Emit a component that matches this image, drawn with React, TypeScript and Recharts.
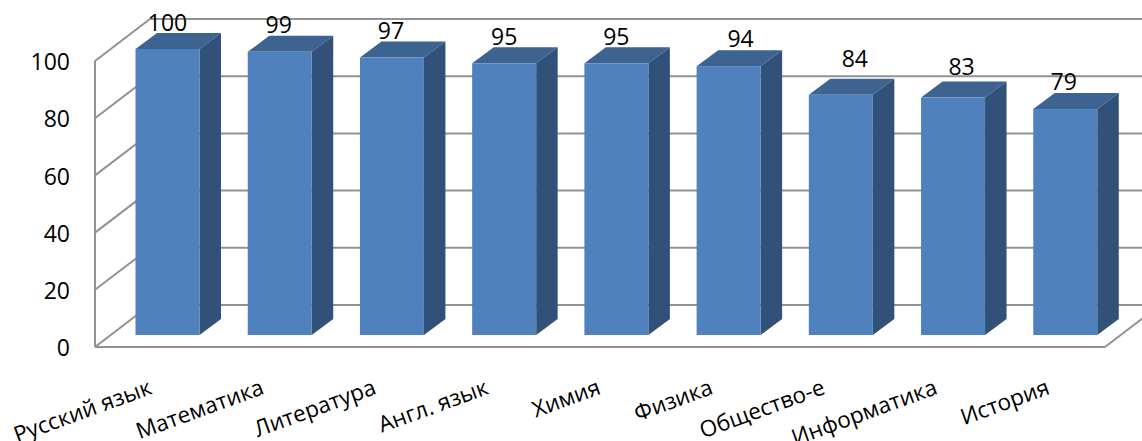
import React from "react";
import { BarChart, Bar, XAxis, YAxis, CartesianGrid, LabelList } from "recharts";

const subjects = ["Русский язык", "Математика", "Литература", "Англ. язык", "Химия", "Физика", "Общество-е", "Информатика", "История"];
const scores = [100, 99, 97, 95, 95, 94, 84, 83, 79];
const yTicks = [0, 20, 40, 60, 80, 100];

const rows = subjects.map((name, i) => ({ name, score: scores[i] }));

const FONT = "'Open Sans', sans-serif";
const GRID = "#929292";
// Oblique offset of the back wall relative to the front plane.
const WALL_DX = 55;
const WALL_DY = -42;
// Columns stand on the floor, part way between the front edge and the wall.
const BAR_DX = 16.5;
const BAR_DY = -12;
const DEPTH_DX = 21.5;
const DEPTH_DY = -16;
// Hand-placed value labels: sideways shift from the column centre and lift above its front top edge.
const LABEL_SHIFT = [0, -1, -1, 0, 0, 12, 14, 8.5, -1.5];
const LABEL_LIFT = [18, 18.5, 18.5, 18.5, 18.5, 19.5, 28, 23, 19];

function WallLine(props: any) {
  const { x1, y1, x2, y2 } = props;
  const bx = x1 + WALL_DX;
  const by = y1 + WALL_DY;
  const ex = x2 + WALL_DX;
  const points = `${x1},${y1} ${bx},${by} ${ex},${by}`;
  const isFloor = y1 > 340;
  return (
    <g>
      <polyline points={points} fill="none" stroke={GRID} strokeWidth={2} />
      {isFloor && <line x1={x2} y1={y2} x2={ex} y2={by} stroke={GRID} strokeWidth={2} />}
    </g>
  );
}

function Column(props: any) {
  const { x, y, width, height } = props;
  const l = x + BAR_DX;
  const t = y + BAR_DY;
  const r = l + width;
  const b = t + height;
  return (
    <g>
      <polygon
        points={`${l},${t} ${l + DEPTH_DX},${t + DEPTH_DY} ${r + DEPTH_DX},${t + DEPTH_DY} ${r},${t}`}
        fill="#3D6391"
      />
      <polygon
        points={`${r},${t} ${r + DEPTH_DX},${t + DEPTH_DY} ${r + DEPTH_DX},${b + DEPTH_DY} ${r},${b}`}
        fill="#325179"
      />
      <rect x={l} y={t} width={width} height={height} fill="#4F81BD" />
    </g>
  );
}

function ScoreLabel(props: any) {
  const { x, y, width, value, index } = props;
  return (
    <text
      x={x + BAR_DX + width / 2 + LABEL_SHIFT[index]}
      y={y + BAR_DY - LABEL_LIFT[index]}
      textAnchor="middle"
      fontFamily={FONT}
      fontSize={23}
      fill="#000"
    >
      {value}
    </text>
  );
}

function SubjectTick(props: any) {
  const { x, y, payload } = props;
  return (
    <text
      transform={`translate(${x + 2},${y + 38.5}) rotate(-20)`}
      textAnchor="end"
      fontFamily={FONT}
      fontSize={22.5}
      fill="#000"
    >
      {payload.value}
    </text>
  );
}

export default function App() {
  return (
    <div style={{ position: "absolute", left: 0, top: 0 }}>
      <BarChart
        width={1142}
        height={441}
        data={rows}
        margin={{ top: 61, right: 37, bottom: 0, left: 0 }}
        barSize={64}
      >
        <CartesianGrid vertical={false} horizontal={(p: any) => <WallLine {...p} />} />
        <XAxis
          dataKey="name"
          height={94}
          interval={0}
          tickLine={false}
          axisLine={{ stroke: GRID, strokeWidth: 2 }}
          tick={<SubjectTick />}
        />
        <YAxis
          width={95}
          domain={[0, 100]}
          ticks={yTicks}
          tickLine={false}
          tickSize={0}
          tickMargin={25}
          axisLine={{ stroke: GRID, strokeWidth: 2 }}
          tick={{ fontFamily: FONT, fontSize: 23, fill: "#000", dy: 1 }}
        />
        <Bar dataKey="score" isAnimationActive={false} shape={<Column />}>
          <LabelList dataKey="score" content={<ScoreLabel />} />
        </Bar>
      </BarChart>
    </div>
  );
}
